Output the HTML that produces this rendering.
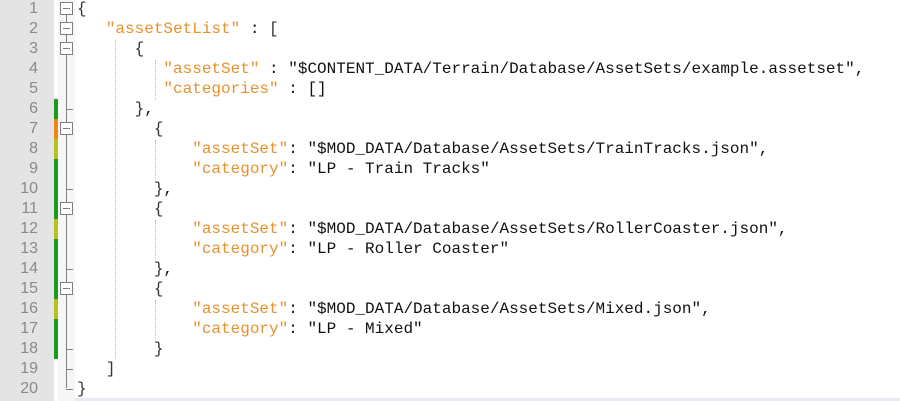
<!DOCTYPE html>
<html><head><style>
body{margin:0;width:900px;height:401px;background:#fff;position:relative;overflow:hidden;font-family:"Liberation Mono",monospace;}
.gut{position:absolute;left:0;top:0;width:54px;height:401px;background:#e4e4e4;}
.fold{position:absolute;left:58px;top:0;width:17px;height:401px;background:repeating-linear-gradient(45deg,#f2f2f2 0 1px,#fafafa 1px 2px);}
.n{position:absolute;left:0;width:38px;text-align:right;font-size:16px;color:#8a8a8a;height:20px;line-height:20px;font-family:"Liberation Sans",sans-serif;}
.l{position:absolute;left:77px;height:20px;line-height:20px;font-size:16px;white-space:pre;color:#111;}
.k{color:#e8912c}
.b{color:#333}
.bar{position:absolute;left:54px;width:4px;height:20px;}
.box{position:absolute;left:60px;width:11px;height:11px;border:1px solid #808080;background:#fff;}
.box:after{content:"";position:absolute;left:2px;top:5px;width:7px;height:1px;background:#808080;}
.tick{position:absolute;left:66px;width:7px;height:1px;background:#808080;}
.g{position:absolute;width:0;border-left:1px dotted #bbb;}
</style></head><body>
<div class="gut"></div>
<div class="fold"></div>
<div style="position:absolute;left:66px;top:14px;width:1px;height:374px;background:#808080"></div>

<div class="n" style="top:-1px">1</div><div class="n" style="top:19px">2</div><div class="n" style="top:39px">3</div><div class="n" style="top:59px">4</div><div class="n" style="top:79px">5</div><div class="n" style="top:99px">6</div><div class="n" style="top:119px">7</div><div class="n" style="top:139px">8</div><div class="n" style="top:159px">9</div><div class="n" style="top:179px">10</div><div class="n" style="top:199px">11</div><div class="n" style="top:219px">12</div><div class="n" style="top:239px">13</div><div class="n" style="top:259px">14</div><div class="n" style="top:279px">15</div><div class="n" style="top:299px">16</div><div class="n" style="top:319px">17</div><div class="n" style="top:339px">18</div><div class="n" style="top:359px">19</div><div class="n" style="top:379px">20</div>

<div class="bar" style="top:99px;background:#1a9c1a"></div>
<div class="bar" style="top:119px;background:#f0861a"></div>
<div class="bar" style="top:139px;background:#b8c020"></div>
<div class="bar" style="top:159px;height:60px;background:#1a9c1a"></div>
<div class="bar" style="top:219px;background:#b8c020"></div>
<div class="bar" style="top:239px;height:60px;background:#1a9c1a"></div>
<div class="bar" style="top:299px;background:#b8c020"></div>
<div class="bar" style="top:319px;height:40px;background:#1a9c1a"></div>

<div class="box" style="top:2px"></div>
<div class="box" style="top:22px"></div>
<div class="box" style="top:42px"></div>
<div class="box" style="top:122px"></div>
<div class="box" style="top:202px"></div>
<div class="box" style="top:282px"></div>
<div class="tick" style="top:109px"></div>
<div class="tick" style="top:189px"></div>
<div class="tick" style="top:269px"></div>
<div class="tick" style="top:349px"></div>
<div class="tick" style="top:369px"></div>
<div class="tick" style="top:389px"></div>

<div class="g" style="left:115px;top:40px;height:319px"></div>
<div class="g" style="left:155px;top:60px;height:40px"></div>
<div class="g" style="left:155px;top:140px;height:40px"></div>
<div class="g" style="left:155px;top:220px;height:40px"></div>
<div class="g" style="left:155px;top:300px;height:40px"></div>

<div class="l" style="top:-1px"><span class="b">{</span></div>
<div class="l" style="top:19px">   <span class="k">"assetSetList"</span> : <span class="b">[</span></div>
<div class="l" style="top:39px">      <span class="b">{</span></div>
<div class="l" style="top:59px">         <span class="k">"assetSet"</span> : "$CONTENT_DATA/Terrain/Database/AssetSets/example.assetset",</div>
<div class="l" style="top:79px">         <span class="k">"categories"</span> : []</div>
<div class="l" style="top:99px">      <span class="b">}</span>,</div>
<div class="l" style="top:119px">        <span class="b">{</span></div>
<div class="l" style="top:139px">            <span class="k">"assetSet"</span>: "$MOD_DATA/Database/AssetSets/TrainTracks.json",</div>
<div class="l" style="top:159px">            <span class="k">"category"</span>: "LP - Train Tracks"</div>
<div class="l" style="top:179px">        <span class="b">}</span>,</div>
<div class="l" style="top:199px">        <span class="b">{</span></div>
<div class="l" style="top:219px">            <span class="k">"assetSet"</span>: "$MOD_DATA/Database/AssetSets/RollerCoaster.json",</div>
<div class="l" style="top:239px">            <span class="k">"category"</span>: "LP - Roller Coaster"</div>
<div class="l" style="top:259px">        <span class="b">}</span>,</div>
<div class="l" style="top:279px">        <span class="b">{</span></div>
<div class="l" style="top:299px">            <span class="k">"assetSet"</span>: "$MOD_DATA/Database/AssetSets/Mixed.json",</div>
<div class="l" style="top:319px">            <span class="k">"category"</span>: "LP - Mixed"</div>
<div class="l" style="top:339px">        <span class="b">}</span></div>
<div class="l" style="top:359px">   <span class="b">]</span></div>
<div class="l" style="top:379px"><span class="b">}</span></div>
<div style="position:absolute;left:75px;top:398px;width:825px;height:3px;background:#ece8f6"></div>
</body></html>
